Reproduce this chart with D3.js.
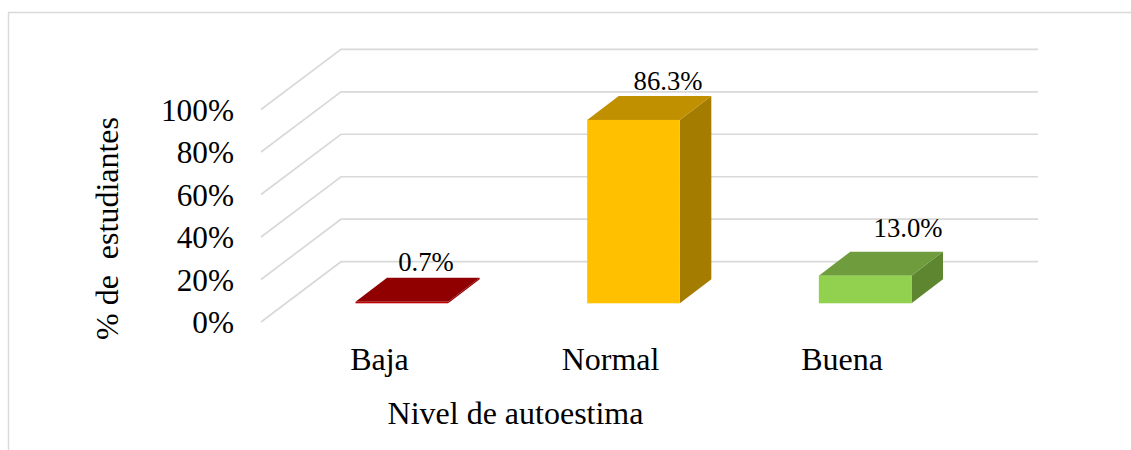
<!DOCTYPE html>
<html><head><meta charset="utf-8">
<script src="https://cdn.jsdelivr.net/npm/d3@7/dist/d3.min.js"></script>
<style>html,body{margin:0;padding:0;background:#fff}svg{display:block}text{font-family:"Liberation Serif",serif;fill:#000}</style>
</head><body><svg id="c" width="1131" height="450"></svg>
<script>
const categories=["Baja","Normal","Buena"];
const values=[0.7,86.3,13.0];
const valueLabels=["0.7%","86.3%","13.0%"];
const faceColors=["#c00000","#ffc000","#92d050"];
const topColors=["#900000","#c09000","#6f9c3c"];
const sideColors=["#900000","#a47c00","#5e8530"];
const ticks=[0,20,40,60,80,100];
const xTitle="Nivel de autoestima";
const yTitle="% de  estudiantes";

const svg=d3.select("#c");
svg.append("path").attr("fill","none").attr("stroke","#d9d9d9").attr("stroke-width",1.4)
  .attr("d","M8.5,450V12.5H1131");

const yFront=d3.scaleLinear().domain([0,100]).range([322,109.5]);
const yBack=d3.scaleLinear().domain([0,100]).range([261.7,49.3]);
const yBar=d3.scaleLinear().domain([0,100]).range([303.3,90.8]);
const x=d3.scaleBand().domain(categories).range([286,981]).paddingInner(0.6).paddingOuter(0.3).align(0.5);
const xL=261,xB=341,xR=1038;
const dx=31.5,dy=-24;

const grid=svg.append("g").attr("stroke","#d9d9d9").attr("stroke-width",1.7).attr("fill","none");
grid.selectAll("path").data(ticks).join("path")
  .attr("d",t=>d3.line()([[xL,yFront(t)],[xB,yBack(t)],[xR,yBack(t)]]));

const bars=svg.append("g").selectAll("g").data(categories).join("g");
const poly=(pts)=>d3.line()(pts)+"Z";
const X0=(d)=>x(d), X1=(d)=>x(d)+x.bandwidth();
bars.append("path").attr("fill",(d,i)=>sideColors[i])
  .attr("d",(d,i)=>poly([[X1(d),yBar(values[i])],[X1(d)+dx,yBar(values[i])+dy],[X1(d)+dx,yBar(0)+dy],[X1(d),yBar(0)]]));
bars.append("path").attr("fill",(d,i)=>topColors[i])
  .attr("d",(d,i)=>poly([[X0(d),yBar(values[i])],[X0(d)+dx,yBar(values[i])+dy],[X1(d)+dx,yBar(values[i])+dy],[X1(d),yBar(values[i])]]));
bars.append("rect").attr("fill",(d,i)=>faceColors[i])
  .attr("x",d=>X0(d)).attr("width",x.bandwidth())
  .attr("y",(d,i)=>yBar(values[i])).attr("height",(d,i)=>yBar(0)-yBar(values[i]));

const labelPos=[[426,271],[668,90],[908,237]];
svg.append("g").selectAll("text").data(valueLabels).join("text")
  .attr("x",(d,i)=>labelPos[i][0]).attr("y",(d,i)=>labelPos[i][1])
  .attr("text-anchor","middle").attr("font-size",26.7).text(d=>d);

svg.append("g").selectAll("text").data(ticks).join("text")
  .attr("x",234).attr("y",t=>yFront(t)+11)
  .attr("text-anchor","end").attr("font-size",31.3).text(t=>t+"%");

const catX=[379.5,610.5,842];
svg.append("g").selectAll("text").data(categories).join("text")
  .attr("x",(d,i)=>catX[i]).attr("y",370).attr("text-anchor","middle").attr("font-size",32).text(d=>d);

svg.append("text").attr("x",515.5).attr("y",424).attr("text-anchor","middle").attr("font-size",32).text(xTitle);
svg.append("text").attr("transform","translate(118,228.5) rotate(-90)").attr("text-anchor","middle")
  .attr("font-size",32).style("white-space","pre").text(yTitle);
</script></body></html>
